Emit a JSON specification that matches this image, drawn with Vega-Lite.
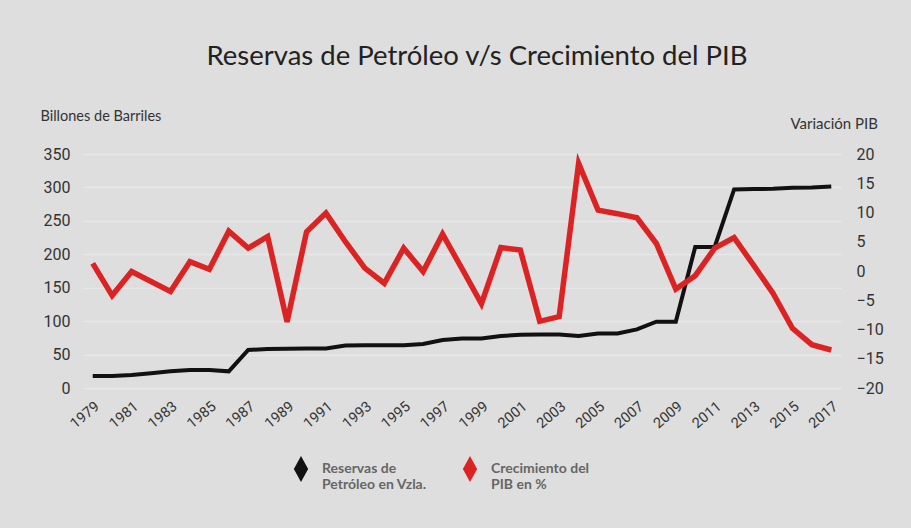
{
  "$schema": "https://vega.github.io/schema/vega-lite/v6.json",
  "autosize": {"type": "none"},
  "width": 758,
  "height": 234,
  "padding": {"left": 83, "top": 154, "right": 70, "bottom": 140},
  "background": "#dedede",
  "title": {
    "text": "Reservas de Petróleo v/s Crecimiento del PIB",
    "font": "Lato",
    "fontSize": 27.5,
    "fontWeight": "normal",
    "color": "#222222",
    "anchor": "middle",
    "dx": 15,
    "offset": 38
  },
  "config": {
    "view": {"stroke": null},
    "axis": {
      "labelFont": "Roboto",
      "labelColor": "#333333",
      "titleFont": "Lato",
      "titleFontWeight": "normal",
      "titleColor": "#333333",
      "domain": false,
      "ticks": false
    }
  },
  "data": {
    "values": [
      {"year": 1979, "reservas": 17.9, "pib": 1.3},
      {"year": 1980, "reservas": 18.0, "pib": -4.2},
      {"year": 1981, "reservas": 19.5, "pib": -0.1},
      {"year": 1982, "reservas": 21.9, "pib": -1.8},
      {"year": 1983, "reservas": 24.9, "pib": -3.5},
      {"year": 1984, "reservas": 26.9, "pib": 1.6},
      {"year": 1985, "reservas": 26.9, "pib": 0.3},
      {"year": 1986, "reservas": 24.9, "pib": 6.8},
      {"year": 1987, "reservas": 56.8, "pib": 3.9},
      {"year": 1988, "reservas": 58.5, "pib": 5.9},
      {"year": 1989, "reservas": 58.8, "pib": -8.7},
      {"year": 1990, "reservas": 59.0, "pib": 6.7},
      {"year": 1991, "reservas": 59.0, "pib": 9.9},
      {"year": 1992, "reservas": 63.5, "pib": 5.0},
      {"year": 1993, "reservas": 63.8, "pib": 0.5},
      {"year": 1994, "reservas": 63.8, "pib": -2.1},
      {"year": 1995, "reservas": 64.0, "pib": 3.9},
      {"year": 1996, "reservas": 65.8, "pib": -0.1},
      {"year": 1997, "reservas": 71.7, "pib": 6.3},
      {"year": 1998, "reservas": 74.0, "pib": 0.4},
      {"year": 1999, "reservas": 74.2, "pib": -5.6},
      {"year": 2000, "reservas": 77.7, "pib": 4.0},
      {"year": 2001, "reservas": 79.5, "pib": 3.6},
      {"year": 2002, "reservas": 80.0, "pib": -8.6},
      {"year": 2003, "reservas": 80.0, "pib": -7.8},
      {"year": 2004, "reservas": 77.7, "pib": 18.4},
      {"year": 2005, "reservas": 81.5, "pib": 10.4},
      {"year": 2006, "reservas": 81.7, "pib": 9.8},
      {"year": 2007, "reservas": 87.7, "pib": 9.1},
      {"year": 2008, "reservas": 99.1, "pib": 4.7},
      {"year": 2009, "reservas": 99.1, "pib": -3.1},
      {"year": 2010, "reservas": 211.0, "pib": -0.8},
      {"year": 2011, "reservas": 211.0, "pib": 3.9},
      {"year": 2012, "reservas": 297.0, "pib": 5.7},
      {"year": 2013, "reservas": 297.6, "pib": 1.0},
      {"year": 2014, "reservas": 298.0, "pib": -3.8},
      {"year": 2015, "reservas": 299.4, "pib": -9.8},
      {"year": 2016, "reservas": 300.0, "pib": -12.6},
      {"year": 2017, "reservas": 301.5, "pib": -13.5}
    ]
  },
  "encoding": {
    "x": {
      "field": "year",
      "type": "quantitative",
      "scale": {"domain": [1978.5, 2017.5], "nice": false, "zero": false},
      "axis": {
        "title": null,
        "values": [1979, 1981, 1983, 1985, 1987, 1989, 1991, 1993, 1995, 1997, 1999, 2001, 2003, 2005, 2007, 2009, 2011, 2013, 2015, 2017],
        "format": "d",
        "labelAngle": -40,
        "labelFontSize": 14.5,
        "labelPadding": 11,
        "grid": false
      }
    }
  },
  "layer": [
    {
      "mark": {"type": "line", "strokeWidth": 4, "strokeJoin": "miter"},
      "encoding": {
        "y": {
          "field": "reservas",
          "type": "quantitative",
          "scale": {"domain": [0, 350], "nice": false},
          "axis": {
            "orient": "left",
            "title": "Billones de Barriles",
            "titleFontSize": 14.5,
            "titleAngle": 0,
            "titleAlign": "left",
            "titleBaseline": "middle",
            "titleX": -43,
            "titleY": -38,
            "values": [0, 50, 100, 150, 200, 250, 300, 350],
            "labelFontSize": 16,
            "labelPadding": 13,
            "grid": true,
            "gridColor": "#e8e8e8",
            "gridWidth": 1.5
          }
        },
        "color": {
          "datum": "Reservas",
          "type": "nominal",
          "scale": {"domain": ["Reservas", "PIB"], "range": ["#111111", "#dc2323"]},
          "legend": {
            "title": null,
            "orient": "none",
            "legendX": 205,
            "legendY": 302,
            "direction": "horizontal",
            "columns": 2,
            "symbolType": "M0,-1L0.55,0L0,1L-0.55,0Z",
            "symbolSize": 676,
            "symbolStrokeWidth": 0,
            "labelFont": "Lato",
            "labelFontSize": 14,
            "labelFontWeight": "bold",
            "labelColor": "#666666",
            "labelOffset": 8,
            "labelLimit": 200,
            "columnPadding": 30,
            "labelExpr": "datum.label == 'Reservas' ? ['Reservas de', 'Petróleo en Vzla.'] : ['Crecimiento del', 'PIB en %']",
            "encode": {
              "symbols": {
                "update": {
                  "fill": {"scale": "color", "field": "value"},
                  "strokeWidth": {"value": 0}
                }
              }
            }
          }
        }
      }
    },
    {
      "mark": {"type": "line", "strokeWidth": 5.5, "strokeJoin": "miter"},
      "encoding": {
        "y": {
          "field": "pib",
          "type": "quantitative",
          "scale": {"domain": [-20, 20], "nice": false},
          "axis": {
            "orient": "right",
            "title": "Variación PIB",
            "titleFontSize": 15,
            "titleAngle": 0,
            "titleAlign": "left",
            "titleBaseline": "middle",
            "titleX": -51,
            "titleY": -31,
            "values": [-20, -15, -10, -5, 0, 5, 10, 15, 20],
            "labelFontSize": 16,
            "labelPadding": 15,
            "grid": false
          }
        },
        "color": {"datum": "PIB", "type": "nominal"}
      }
    }
  ],
  "resolve": {"scale": {"y": "independent"}}
}
